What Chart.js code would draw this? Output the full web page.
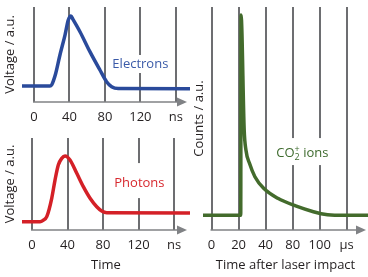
<!DOCTYPE html>
<html>
<head>
<meta charset="utf-8">
<script src="https://cdn.jsdelivr.net/npm/chart.js@4"></script>
<style>
  html, body { margin: 0; padding: 0; background: #fff; }
  body { width: 368px; height: 277px; position: relative; overflow: hidden; }
  canvas { position: absolute; }
</style>
</head>
<body>
<canvas id="chartElectrons" width="190" height="128" style="left:0px;top:0px"></canvas>
<canvas id="chartPhotons" width="190" height="149" style="left:0px;top:128px"></canvas>
<canvas id="chartIons" width="178" height="277" style="left:190px;top:0px"></canvas>
<script>
// valores (unidades arbitrárias no eixo y, 0..100)
const electronsX = [-13.5, 18, 20, 22, 24.5, 29.3, 35, 38.7, 41.7, 44, 51.9, 63.1, 74.4, 81.9, 87.6, 95, 176];
const electronsY = [16.8, 16.8, 18, 22.5, 30, 49.5, 70.5, 86.3, 90.5, 87, 74, 53, 33.7, 21.4, 16.1, 14.2, 14];

const photonsX = [-11.3, 9, 12.5, 16.6, 22.2, 25.9, 29.6, 33.5, 37.2, 42.8, 50.4, 57.8, 65.4, 72.9, 78.5, 84.2, 178];
const photonsY = [9, 9, 10.5, 14.5, 34.5, 54.3, 70.7, 77.9, 80.4, 76.1, 61.6, 47.1, 34.5, 25.3, 20.7, 18.8, 18.5];

const ionsX = [-7.9, 27, 27.3, 30.2, 31.8, 35.1, 40.1, 48.2, 61.3, 77.8, 94.2, 107.3, 113.9, 144.7];
const ionsY = [6.6, 6.6, 96.4, 44.8, 35.9, 29.9, 23.9, 18.7, 14.2, 10.8, 8.2, 6.8, 6.6, 6.6];

const nsTicks = [0, 40, 80, 120, 160];
const nsTickLabels = ['0', '40', '80', '120', 'ns'];
const usTicks = [0, 25, 50, 75, 100, 125];
const usTickLabels = ['0', '20', '40', '80', '100', 'µs'];

const FONT = { family: '"Open Sans", sans-serif', size: 13 };
const GRID = '#6d6e71';
const INK = '#231f20';

// eixo x com seta
const axisArrow = {
    id: 'axisArrow',
    afterDatasetsDraw(chart, args, opts) {
        const { ctx, chartArea, scales } = chart;
        const y0 = chartArea.bottom;
        const x0 = scales.x.getPixelForValue(0);
        const tip = chartArea.right - opts.inset;
        ctx.save();
        ctx.strokeStyle = ctx.fillStyle = '#808285';
        ctx.lineWidth = 1.5;
        ctx.beginPath(); ctx.moveTo(x0 - 1, y0); ctx.lineTo(tip - 6, y0); ctx.stroke();
        ctx.beginPath(); ctx.moveTo(tip, y0); ctx.lineTo(tip - 10, y0 - 4.5); ctx.lineTo(tip - 10, y0 + 4.5); ctx.closePath(); ctx.fill();
        ctx.restore();
    }
};

// rótulo da série, com fundo branco por cima da grade
const seriesLabel = {
    id: 'seriesLabel',
    afterDatasetsDraw(chart, args, opts) {
        const { ctx, scales } = chart;
        const cx = scales.x.getPixelForValue(opts.x);
        const cy = scales.y.getPixelForValue(opts.y);
        const big = `${FONT.size}px ${FONT.family}`;
        const small = `9px ${FONT.family}`;
        ctx.save();
        ctx.textBaseline = 'middle';
        ctx.textAlign = 'left';
        let w = 0;
        opts.parts.forEach(p => {
            ctx.font = p.small ? small : big;
            p.w = p.stack ? Math.max(...p.stack.map(s => ctx.measureText(s).width)) : ctx.measureText(p.text).width;
            w += p.w;
        });
        ctx.fillStyle = '#fff';
        ctx.fillRect(cx - w / 2 - 3, cy - opts.boxUp, w + 6, opts.boxUp + opts.boxDown);
        ctx.fillStyle = opts.color;
        let x = cx - w / 2;
        opts.parts.forEach(p => {
            if (p.stack) {
                ctx.font = small;
                ctx.fillText(p.stack[0], x, cy - 4);
                ctx.fillText(p.stack[1], x, cy + 4);
            } else {
                ctx.font = big;
                ctx.fillText(p.text, x, cy);
            }
            x += p.w;
        });
        ctx.restore();
    }
};

function criarGrafico(id, cfg) {
    return new Chart(document.getElementById(id), {
        type: 'line',
        data: {
            datasets: [{
                data: cfg.xs.map((x, i) => ({ x: x, y: cfg.ys[i] })),
                borderColor: cfg.color,
                borderWidth: 3.5,
                pointRadius: 0,
                cubicInterpolationMode: 'monotone',
                fill: false
            }]
        },
        options: {
            responsive: false,
            animation: false,
            devicePixelRatio: 1,
            layout: { padding: { top: cfg.top, left: 0, right: 0, bottom: 0 } },
            plugins: {
                legend: { display: false },
                tooltip: { enabled: false },
                axisArrow: { inset: cfg.inset },
                seriesLabel: cfg.label
            },
            scales: {
                x: {
                    type: 'linear',
                    min: cfg.xMin,
                    max: cfg.xMax,
                    afterBuildTicks: s => { s.ticks = cfg.ticks.map(v => ({ value: v })); },
                    afterFit: s => { s.height = cfg.xHeight; },
                    grid: { color: GRID, lineWidth: 2, drawTicks: false },
                    border: { display: false },
                    ticks: {
                        padding: 7, color: INK, font: FONT, maxRotation: 0, autoSkip: false,
                        callback: v => cfg.tickLabels[cfg.ticks.indexOf(v)]
                    },
                    title: {
                        display: !!cfg.xTitle, text: cfg.xTitle || '', color: INK, font: FONT,
                        padding: { top: 0, bottom: 4 }
                    }
                },
                y: {
                    min: 0,
                    max: 100,
                    afterFit: s => { s.width = cfg.yWidth; },
                    grid: { display: false },
                    border: { display: false },
                    ticks: { display: false },
                    title: { display: true, text: cfg.yTitle, color: INK, font: FONT, padding: { top: cfg.yPad, bottom: 0 } }
                }
            }
        },
        plugins: [axisArrow, seriesLabel]
    });
}

criarGrafico('chartElectrons', {
    xs: electronsX, ys: electronsY, color: '#2a4a9b',
    xMin: -13.5, xMax: 176, ticks: nsTicks, tickLabels: nsTickLabels,
    top: 7, xHeight: 26, yWidth: 22, yPad: 2, inset: 3,
    yTitle: 'Voltage / a.u.',
    label: { x: 120, y: 40, color: '#3a5aa8', boxUp: 9, boxDown: 9, parts: [{ text: 'Electrons' }] }
});

criarGrafico('chartPhotons', {
    xs: photonsX, ys: photonsY, color: '#d42027',
    xMin: -11.3, xMax: 178, ticks: nsTicks, tickLabels: nsTickLabels,
    top: 10, xHeight: 47, yWidth: 22, yPad: 2, inset: 3,
    yTitle: 'Voltage / a.u.', xTitle: 'Time',
    label: { x: 121, y: 51, color: '#d7282e', boxUp: 20, boxDown: 15, parts: [{ text: 'Photons' }] }
});

criarGrafico('chartIons', {
    xs: ionsX, ys: ionsY, color: '#436b2c',
    xMin: -7.9, xMax: 144.7, ticks: usTicks, tickLabels: usTickLabels,
    top: 7, xHeight: 47, yWidth: 13, yPad: 1, inset: 2,
    yTitle: 'Counts / a.u.', xTitle: 'Time after laser impact',
    label: { x: 84, y: 34.5, color: '#3d6a2d', boxUp: 15, boxDown: 12,
             parts: [{ text: 'CO' }, { small: true, stack: ['+', '2'] }, { text: ' ions' }] }
});
</script>
</body>
</html>
